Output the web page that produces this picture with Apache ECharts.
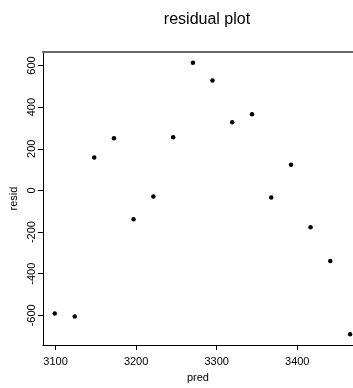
<!DOCTYPE html>
<html>
<head>
<meta charset="utf-8">
<script src="https://cdn.jsdelivr.net/npm/echarts@6/dist/echarts.min.js"></script>
<style>
html,body{margin:0;padding:0;background:#fff;}
#chart{width:353px;height:388px;}
</style>
</head>
<body>
<div id="chart"></div>
<script>
var pred = [3099, 3123.8, 3148, 3172.5, 3196.8, 3221.4, 3246, 3270.5, 3294.8, 3319.3, 3343.9, 3367.7, 3392.3, 3416.5, 3441, 3465.6];
var resid = [-591, -606, 158, 251, -139, -29.5, 256, 613, 528, 328, 366, -34, 123, -177, -339, -691];
var xTicks = [3100, 3200, 3300, 3400];
var yTicks = [-600, -400, -200, 0, 200, 400, 600];
var xRange = [3084.3, 3469.2];
var yRange = [-743, 665];

var FONT = 'Liberation Sans';
var points = pred.map(function (p, i) { return [p, resid[i]]; });
function plain(v) { return String(v); }

var chart = echarts.init(document.getElementById('chart'), null, {renderer: 'canvas'});
chart.setOption({
  animation: false,
  backgroundColor: '#fff',
  title: {
    text: 'residual plot',
    left: 202,
    top: 7,
    textAlign: 'center',
    textStyle: {fontFamily: FONT, fontSize: 16, fontWeight: 'normal', color: '#000'}
  },
  grid: {left: 41, right: 0, top: 52, bottom: 41, containLabel: false},
  xAxis: [{
    type: 'value',
    min: xRange[0], max: xRange[1],
    position: 'bottom',
    name: 'pred', nameLocation: 'middle', nameGap: 26,
    nameTextStyle: {fontFamily: FONT, fontSize: 11, color: '#000'},
    axisLine: {show: true, onZero: false, lineStyle: {color: '#000', width: 1}},
    axisTick: {show: true, length: 5, inside: false, customValues: xTicks, lineStyle: {color: '#000'}},
    axisLabel: {show: true, margin: 11, fontFamily: FONT, fontSize: 11, color: '#000', customValues: xTicks, formatter: plain},
    splitLine: {show: false}
  }, {
    type: 'value',
    min: xRange[0], max: xRange[1],
    position: 'top',
    axisLine: {show: true, onZero: false, lineStyle: {color: '#666', width: 2}},
    axisTick: {show: false},
    axisLabel: {show: false},
    splitLine: {show: false}
  }],
  yAxis: {
    type: 'value',
    min: yRange[0], max: yRange[1],
    name: 'resid', nameLocation: 'middle', nameGap: 12, nameRotate: 90,
    nameTextStyle: {fontFamily: FONT, fontSize: 11, color: '#000'},
    axisLine: {show: true, onZero: false, lineStyle: {color: '#000', width: 1}},
    axisTick: {show: true, length: 5, customValues: yTicks, lineStyle: {color: '#000'}},
    axisLabel: {show: true, rotate: 90, margin: 5, fontFamily: FONT, fontSize: 11, color: '#000', customValues: yTicks, formatter: plain},
    splitLine: {show: false}
  },
  series: [{
    type: 'scatter',
    xAxisIndex: 0,
    data: points,
    symbol: 'circle',
    symbolSize: 4.5,
    itemStyle: {color: '#000', opacity: 1},
    clip: false
  }]
});
</script>
</body>
</html>
